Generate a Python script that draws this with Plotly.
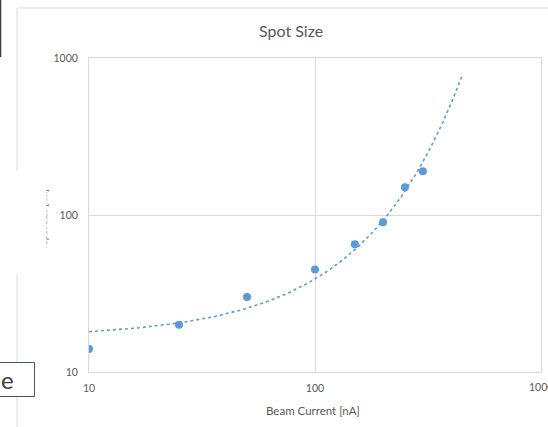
import numpy as np
import plotly.graph_objects as go

# Measured spot size versus beam current
beam_current = [10, 25, 50, 100, 150, 200, 250, 300]   # nA
spot_size = [14, 20, 30, 45, 65, 90, 150, 190]          # nm

x_ticks = [10, 100, 1000]
y_ticks = [10, 100, 1000]

# Exponential trendline y = a*exp(b*x), forecast forward to 450 nA
trend_end = 450
b, ln_a = np.polyfit(beam_current, np.log(spot_size), 1)
trend_x = np.linspace(beam_current[0], trend_end, 300)
trend_y = np.exp(ln_a) * np.exp(b * trend_x)

W, H = 548, 427
L, R, T, B = 89, 7, 58, 55
PW, PH = W - L - R, H - T - B


def px(xp):
    return (xp - L) / PW


def py(yp):
    return (H - B - yp) / PH


blue = "#5B9BD5"
grey_txt = "#595959"
grid = "#D9D9D9"
font = "Lato, Carlito, Liberation Sans, sans-serif"
tick_font = dict(family=font, size=10.5, color=grey_txt)

fig = go.Figure()
fig.add_trace(go.Scatter(
    x=trend_x, y=trend_y, mode="lines",
    line=dict(color=blue, width=1.6, dash="dot"),
    hoverinfo="skip", showlegend=False,
))
fig.add_trace(go.Scatter(
    x=beam_current, y=spot_size, mode="markers",
    marker=dict(color=blue, size=8),
    showlegend=False,
))

axis_common = dict(
    type="log", showgrid=True, gridcolor=grid, gridwidth=1,
    showline=True, linecolor=grid, linewidth=1, mirror=True,
    zeroline=False, ticks="", tickfont=tick_font,
)
# the last x label sits on the figure edge, so it is drawn as an annotation below
fig.update_xaxes(range=[1, 3], tickvals=x_ticks[:-1], ticktext=[str(v) for v in x_ticks[:-1]],
                 ticklabelstandoff=6, **axis_common)
fig.update_yaxes(range=[1, 3], tickvals=y_ticks, ticktext=[str(v) for v in y_ticks],
                 ticklabelstandoff=8, **axis_common)

shapes = [
    # chart area outline
    dict(type="rect", xref="paper", yref="paper",
         x0=px(17), x1=px(600), y0=py(480), y1=py(8),
         line=dict(color="#D9D9D9", width=1), fillcolor="rgba(0,0,0,0)", layer="below"),
    # neighbouring window edge
    dict(type="line", xref="paper", yref="paper",
         x0=px(0.5), x1=px(0.5), y0=py(0), y1=py(57),
         line=dict(color="#3A3A3A", width=1.5)),
    # text box overlapping the lower-left corner
    dict(type="rect", xref="paper", yref="paper",
         x0=px(-2), x1=px(34.5), y0=py(396.5), y1=py(362.5),
         line=dict(color="#3F5F3F", width=1), fillcolor="white", layer="above"),
]

annotations = [
    dict(text="Spot Size", xref="paper", yref="paper", x=px(291), y=py(31),
         showarrow=False, font=dict(family=font, size=16, color=grey_txt),
         xanchor="center", yanchor="middle"),
    dict(text="Beam Current [nA]", xref="paper", yref="paper", x=px(313), y=py(410),
         showarrow=False, font=dict(family=font, size=11.5, color=grey_txt),
         xanchor="center", yanchor="middle"),
    dict(text=str(x_ticks[-1]), xref="x", yref="paper", x=np.log10(x_ticks[-1]), y=py(387),
         showarrow=False, font=tick_font, xanchor="center", yanchor="middle"),
    dict(text="Spot Size [nm]", xref="paper", yref="paper", x=px(43), y=py(217),
         textangle=-90, showarrow=False, font=dict(family=font, size=9, color=grey_txt),
         xanchor="center", yanchor="middle"),
    # panel overlapping the left side of the chart
    dict(text="", xref="paper", yref="paper", x=px(0), y=py(170),
         xanchor="left", yanchor="top", width=43, height=100,
         bgcolor="white", showarrow=False),
    dict(text="e", xref="paper", yref="paper", x=px(-1), y=py(379),
         xanchor="left", yanchor="middle", showarrow=False,
         font=dict(family=font, size=24, color="#404040")),
]

fig.update_layout(
    width=W, height=H,
    margin=dict(l=L, r=R, t=T, b=B),
    paper_bgcolor="white", plot_bgcolor="white",
    shapes=shapes, annotations=annotations,
    showlegend=False,
)

fig.write_html("out.html")
